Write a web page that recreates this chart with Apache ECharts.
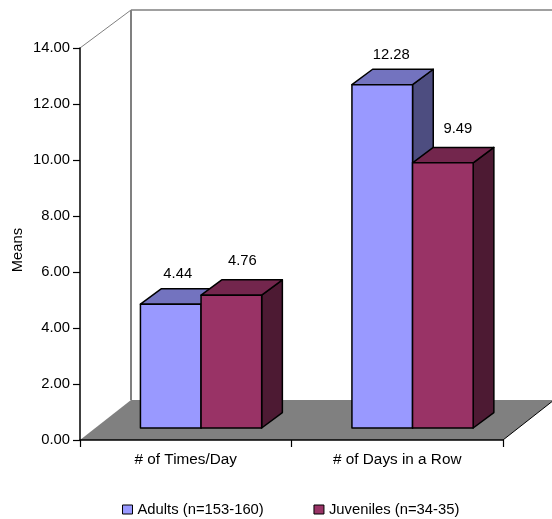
<!DOCTYPE html>
<html>
<head>
<meta charset="utf-8">
<style>html,body{margin:0;padding:0;background:#fff}#c{width:552px;height:519px}</style>
<script src="https://cdn.jsdelivr.net/npm/echarts@6/dist/echarts.min.js"></script>
</head>
<body>
<div id="c"></div>
<script>
var categories = ['# of Times/Day', '# of Days in a Row'];
var adults = [4.44, 12.28];
var juveniles = [4.76, 9.49];
var seriesNames = ['Adults (n=153-160)', 'Juveniles (n=34-35)'];
var FONT = '"Liberation Sans", Arial, sans-serif';
var FS = 14.8;

var chart = echarts.init(document.getElementById('c'), null, {renderer: 'canvas'});

function frameItem(params, api) {
  var o = api.coord([0, 0]);
  var cs = params.coordSys;
  var x0 = cs.x, x1 = cs.x + cs.width;
  var y0 = o[1], yT = cs.y;
  var dx = 51, floorRise = 40, wallRise = 38;
  var grey = '#808080';
  return {
    type: 'group',
    children: [
      {type: 'polygon', shape: {points: [[x0, y0], [x1, y0], [x1 + dx, y0 - floorRise], [x0 + dx, y0 - floorRise]]},
        style: {fill: grey, stroke: null}},
      {type: 'line', shape: {x1: x0, y1: yT, x2: x0 + dx, y2: yT - wallRise}, style: {stroke: grey, lineWidth: 1}},
      {type: 'line', shape: {x1: x0 + dx, y1: yT - wallRise, x2: x1 + dx, y2: yT - wallRise}, style: {stroke: grey, lineWidth: 1.5}},
      {type: 'line', shape: {x1: x0 + dx, y1: yT - wallRise, x2: x0 + dx, y2: y0 - floorRise}, style: {stroke: grey, lineWidth: 2}},
      {type: 'line', shape: {x1: x1, y1: y0, x2: x1 + dx, y2: y0 - floorRise}, style: {stroke: '#000', lineWidth: 1}}
    ]
  };
}

function barRenderer(seriesIndex, topColor, sideColor, labelNudge) {
  return function (params, api) {
    var cat = api.value(0), val = api.value(1);
    var base = api.coord([cat, 0]);
    var top = api.coord([cat, val]);
    var bw = api.size([1, 0])[0] * 0.2866;
    var left = base[0] + 15.3 - (seriesIndex === 0 ? bw : 0);
    var right = left + bw;
    var yB = base[1] - 12;
    var yT = top[1] - 11.5;
    var dx = 20.7, dy = 15.4;
    var line = {stroke: '#000', lineWidth: 1.5, lineJoin: 'round'};
    var nudge = labelNudge[cat];
    return {
      type: 'group',
      children: [
        {type: 'polygon', shape: {points: [[right, yT], [right + dx, yT - dy], [right + dx, yB - dy], [right, yB]]},
          style: Object.assign({fill: sideColor}, line)},
        {type: 'polygon', shape: {points: [[left, yT], [left + dx, yT - dy], [right + dx, yT - dy], [right, yT]]},
          style: Object.assign({fill: topColor}, line)},
        {type: 'rect', shape: {x: left, y: yT, width: bw, height: yB - yT},
          style: Object.assign({fill: api.visual('color')}, line)},
        {type: 'text', x: (left + right) / 2 + nudge[0], y: yT + nudge[1],
          style: {text: val.toFixed(2), font: FS + 'px ' + FONT, fill: '#000', align: 'center', verticalAlign: 'middle'}}
      ]
    };
  };
}

function rows(values) {
  return values.map(function (v, i) { return [i, v]; });
}

chart.setOption({
  animation: false,
  backgroundColor: '#fff',
  grid: {left: 80, right: 49, top: 48, bottom: 79, containLabel: false, outerBoundsMode: 'none'},
  legend: {
    data: seriesNames, left: 117, top: 497,
    itemWidth: 10, itemHeight: 9, itemGap: 49.7, icon: 'rect',
    itemStyle: {borderColor: '#000', borderWidth: 1},
    textStyle: {fontFamily: FONT, fontSize: FS, color: '#000'}
  },
  xAxis: {
    type: 'category', data: categories, z: 10,
    axisLine: {lineStyle: {color: '#000', width: 1.5}},
    axisTick: {show: true, length: 7, alignWithLabel: false, lineStyle: {color: '#000', width: 1.2}},
    axisLabel: {color: '#000', fontFamily: FONT, fontSize: 15.3, margin: 12},
    splitLine: {show: false}
  },
  yAxis: {
    type: 'value', min: 0, max: 14, interval: 2, z: 10,
    name: 'Means', nameLocation: 'middle', nameGap: 55, nameRotate: 90, nameMoveOverlap: false,
    nameTextStyle: {color: '#000', fontFamily: FONT, fontSize: FS, padding: [0, 12, 0, 0]},
    axisLine: {show: true, lineStyle: {color: '#000', width: 1.5}},
    axisTick: {show: true, length: 7, lineStyle: {color: '#000', width: 1.2}},
    axisLabel: {color: '#000', fontFamily: FONT, fontSize: FS, margin: 10, padding: [2, 0, 0, 0],
      formatter: function (v) { return v.toFixed(2); }},
    splitLine: {show: false}
  },
  series: [
    {type: 'custom', name: 'frame', z: 1, silent: true, renderItem: frameItem, data: [[0, 0]], clip: false},
    {type: 'custom', name: seriesNames[0], z: 3, silent: true, clip: false,
      itemStyle: {color: '#9999FF'},
      renderItem: barRenderer(0, '#7373BF', '#4D4D80', [[7, -30], [9, -29.5]]),
      data: rows(adults)},
    {type: 'custom', name: seriesNames[1], z: 4, silent: true, clip: false,
      itemStyle: {color: '#993366'},
      renderItem: barRenderer(1, '#73264D', '#4D1A33', [[11, -34], [15, -33.5]]),
      data: rows(juveniles)}
  ]
});
</script>
</body>
</html>
